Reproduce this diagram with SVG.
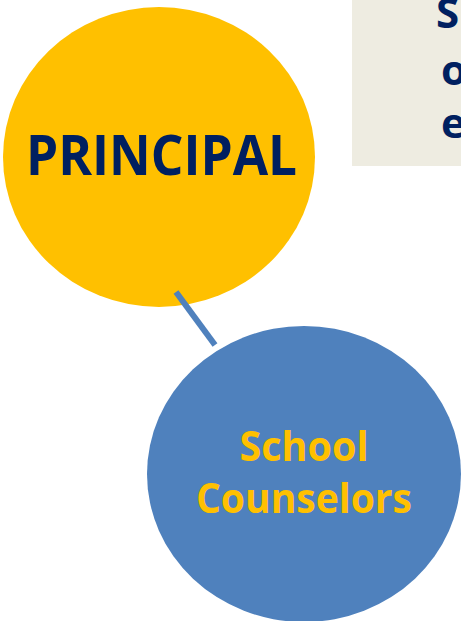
<svg xmlns="http://www.w3.org/2000/svg" width="461" height="621" viewBox="0 0 461 621">
<style>
.t{font-family:"Open Sans","Liberation Sans",sans-serif;font-weight:700}
.navy{fill:#002060}
.gold{fill:#FFC000}
</style>
<rect width="461" height="621" fill="#FFFFFF"/>
<g id="note">
<rect x="352" y="0" width="120" height="166" fill="#EEECE1"/>
<text class="t navy" x="436" y="28" font-size="42">S</text>
<text class="t navy" x="441" y="85" font-size="42">o</text>
<text class="t navy" x="441" y="138" font-size="42">e</text>
</g>
<g id="principal">
<ellipse cx="159" cy="157" rx="156" ry="150" fill="#FFC000"/>
<text class="t navy" x="161.5" y="175" font-size="56" text-anchor="middle" textLength="271" lengthAdjust="spacingAndGlyphs">PRINCIPAL</text>
</g>
<g id="connectors">
<line x1="176" y1="292" x2="215" y2="345" stroke="#4F81BD" stroke-width="6"/>
</g>
<g id="counselors">
<ellipse cx="304" cy="474" rx="157" ry="148" fill="#4F81BD"/>
<text class="t gold" x="304" y="461" font-size="42" text-anchor="middle" textLength="129" lengthAdjust="spacingAndGlyphs">School</text>
<text class="t gold" x="304" y="513" font-size="42" text-anchor="middle" textLength="216" lengthAdjust="spacingAndGlyphs">Counselors</text>
</g>
</svg>
